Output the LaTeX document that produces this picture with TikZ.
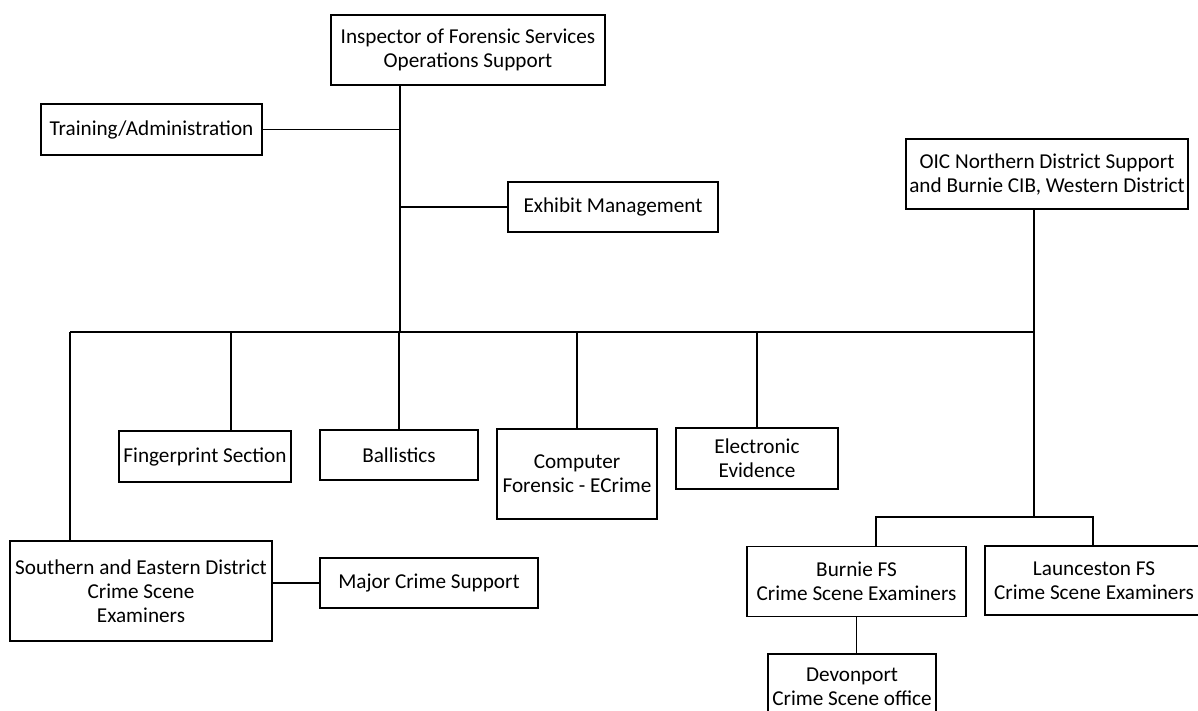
\documentclass[tikz,border=0pt]{standalone}
\usepackage{fontspec}
\setmainfont{Carlito}
\usetikzlibrary{positioning}
\tikzset{box/.style={draw,line width=1.6pt,align=center,inner sep=0pt,fill=white}}
\tikzset{wire/.style={line width=1.6pt}}

\begin{document}
\begin{tikzpicture}[x=1pt,y=-1pt,font=\fontsize{21.2}{24}\selectfont]
    \fill[white] (0,0) rectangle (1198,711);
    \useasboundingbox (0,0) rectangle (1198,711);

    \node[box,minimum width=274,minimum height=70] (ins) at (468,50) {Inspector of Forensic Services\\Operations Support};
    \node[box,minimum width=221,minimum height=51] (tra) at (151.5,129.5) {Training/Administration};
    \node[box,minimum width=210,minimum height=50] (exh) at (613,207) {Exhibit Management};
    \node[box,minimum width=282,minimum height=70] (oic) at (1047,174) {OIC Northern District Support\\and Burnie CIB, Western District};
    \node[box,minimum width=172,minimum height=51] (fin) at (205,456.5) {Fingerprint Section};
    \node[box,minimum width=158,minimum height=50] (bal) at (399,455) {Ballistics};
    \node[box,minimum width=160,minimum height=90] (com) at (577,474) {Computer\\Forensic - ECrime};
    \node[box,minimum width=162,minimum height=61] (ele) at (757,458.5) {Electronic\\Evidence};
    \node[box,minimum width=262,minimum height=100] (sou) at (141,591) {Southern and Eastern District\\Crime Scene\\Examiners};
    \node[box,minimum width=218,minimum height=50] (maj) at (429,583) {Major Crime Support};
    \node[box,minimum width=219,minimum height=70] (bur) at (856.5,581.5) {Burnie FS\\Crime Scene Examiners};
    \node[box,minimum width=218,minimum height=69] (lau) at (1094,580.5) {Launceston FS\\Crime Scene Examiners};
    \node[box,minimum width=168,minimum height=66] (dev) at (852,687) {Devonport\\Crime Scene office};

    \coordinate (t1) at (400,130);
    \coordinate (t2) at (400,207);
    \coordinate (t3) at (400,332);
    \coordinate (bl) at (70,332);
    \coordinate (br) at (1034,332);
    \coordinate (fj) at (231,332);
    \coordinate (rj) at (1034,517);
    \coordinate (bj) at (876,517);
    \coordinate (lj) at (1093,517);

    \draw[wire] (ins.south -| t3) -- (t3);
    \draw[wire] (tra.east) -- (tra.east -| t1);
    \draw[wire] (t2) -- (exh.west);
    \draw[wire] (bl) -- (br);
    \draw[wire] (oic.south -| br) -- (br) -- (rj);
    \draw[wire] (bl) -- (bl |- sou.north);
    \draw[wire] (fj) -- (fj |- fin.north);
    \draw[wire] (bal.north |- t3) -- (bal.north);
    \draw[wire] (com.north |- t3) -- (com.north);
    \draw[wire] (ele.north |- t3) -- (ele.north);
    \draw[wire] (bj |- bur.north) -- (bj) -- (lj) -- (lj |- lau.north);
    \draw[wire] (bur.south) -- (bur.south |- dev.north);
    \draw[wire] (sou.east |- maj) -- (maj.west);
\end{tikzpicture}
\end{document}
